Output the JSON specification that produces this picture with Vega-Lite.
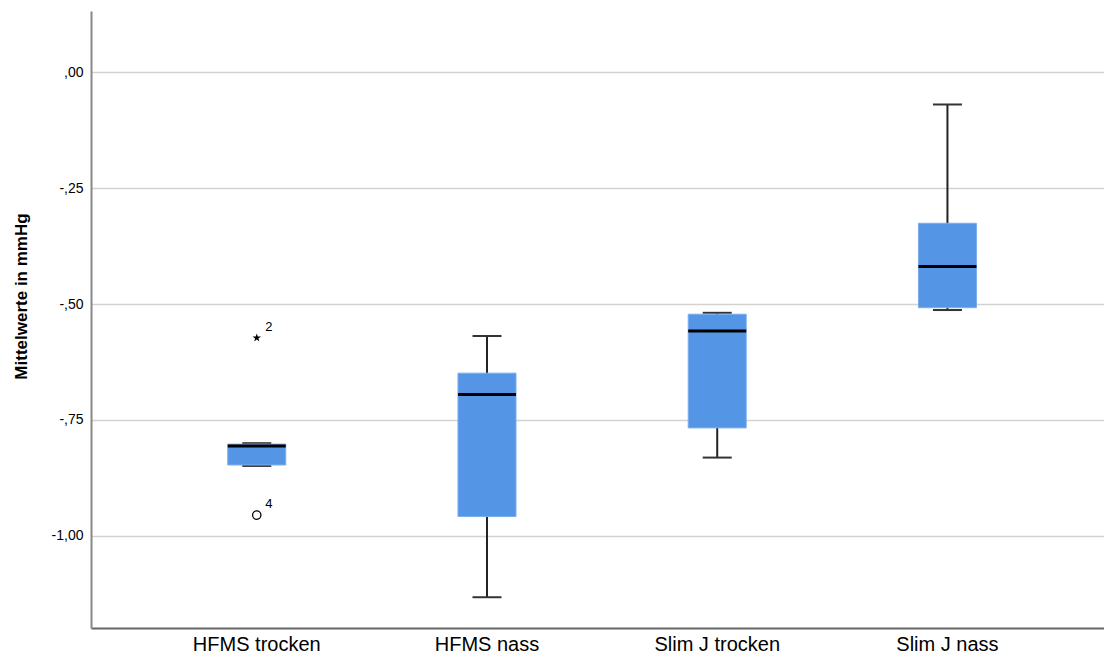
{
  "$schema": "https://vega.github.io/schema/vega-lite/v6.json",
  "width": 1013,
  "height": 617,
  "autosize": {"type": "none"},
  "padding": {"left": 91, "top": 11, "right": 0, "bottom": 30},
  "background": "white",
  "config": {
    "view": {"stroke": null},
    "font": "Liberation Sans"
  },
  "datasets": {
    "boxes": [
      {"group": "HFMS trocken", "lower": -0.849, "q1": -0.847, "median": -0.806, "q3": -0.802, "upper": -0.800},
      {"group": "HFMS nass", "lower": -1.132, "q1": -0.958, "median": -0.695, "q3": -0.649, "upper": -0.569},
      {"group": "Slim J trocken", "lower": -0.831, "q1": -0.767, "median": -0.558, "q3": -0.522, "upper": -0.519},
      {"group": "Slim J nass", "lower": -0.513, "q1": -0.508, "median": -0.419, "q3": -0.326, "upper": -0.070}
    ],
    "outliers": [
      {"group": "HFMS trocken", "value": -0.573, "label": "2", "kind": "extreme"},
      {"group": "HFMS trocken", "value": -0.955, "label": "4", "kind": "outlier"}
    ]
  },
  "encoding": {
    "x": {
      "field": "group",
      "type": "nominal",
      "sort": ["HFMS trocken", "HFMS nass", "Slim J trocken", "Slim J nass"],
      "scale": {"paddingInner": 0, "paddingOuter": 0.2, "align": 0.55},
      "axis": {
        "title": null,
        "labelAngle": 0,
        "labelFontSize": 20,
        "labelColor": "#000000",
        "labelPadding": 6,
        "ticks": false,
        "domainColor": "#666666",
        "domainWidth": 2,
        "grid": false
      }
    }
  },
  "layer": [
    {
      "data": {"name": "boxes"},
      "mark": {"type": "rule", "color": "#222222", "strokeWidth": 2, "opacity": 1},
      "encoding": {
        "y": {
          "field": "lower",
          "type": "quantitative",
          "scale": {"domain": [-1.1983, 0.1315], "nice": false, "zero": false},
          "axis": {
            "title": "Mittelwerte in mmHg",
            "titleFontSize": 17,
            "titleFontWeight": "bold",
            "titleColor": "#000000",
            "titleAngle": 270,
            "titleX": -70,
            "titleY": 285,
            "titleAlign": "center",
            "titleBaseline": "middle",
            "values": [0, -0.25, -0.5, -0.75, -1],
            "labelExpr": "replace(replace(replace(format(datum.value, '.2f'), '\u2212', '-'), '0.', '.'), '.', ',')",
            "labelFontSize": 14,
            "labelColor": "#000000",
            "labelPadding": 8,
            "ticks": false,
            "domainColor": "#888888",
            "domainWidth": 2,
            "grid": true,
            "gridColor": "#d2d2d2",
            "gridWidth": 1.6
          }
        },
        "y2": {"field": "upper"}
      }
    },
    {
      "data": {"name": "boxes"},
      "mark": {"type": "tick", "color": "#333333", "size": 29, "thickness": 2, "opacity": 1},
      "encoding": {"y": {"field": "lower", "type": "quantitative"}}
    },
    {
      "data": {"name": "boxes"},
      "mark": {"type": "tick", "color": "#333333", "size": 29, "thickness": 2, "opacity": 1},
      "encoding": {"y": {"field": "upper", "type": "quantitative"}}
    },
    {
      "data": {"name": "boxes"},
      "mark": {"type": "bar", "size": 58, "color": "#5495e5", "stroke": "#7aaeee", "strokeWidth": 1, "opacity": 1},
      "encoding": {
        "y": {"field": "q1", "type": "quantitative"},
        "y2": {"field": "q3"}
      }
    },
    {
      "data": {"name": "boxes"},
      "mark": {"type": "tick", "color": "#000000", "size": 58, "thickness": 3, "opacity": 1},
      "encoding": {"y": {"field": "median", "type": "quantitative"}}
    },
    {
      "data": {"name": "outliers"},
      "transform": [{"filter": "datum.kind === 'extreme'"}],
      "mark": {
        "type": "point",
        "shape": "M0,-1L0.2245,-0.309L0.951,-0.309L0.363,0.118L0.588,0.809L0,0.382L-0.588,0.809L-0.363,0.118L-0.951,-0.309L-0.2245,-0.309Z",
        "filled": true,
        "color": "#000000",
        "size": 80,
        "opacity": 1
      },
      "encoding": {"y": {"field": "value", "type": "quantitative"}}
    },
    {
      "data": {"name": "outliers"},
      "transform": [{"filter": "datum.kind === 'outlier'"}],
      "mark": {
        "type": "point",
        "shape": "circle",
        "filled": false,
        "color": "#000000",
        "strokeWidth": 1.3,
        "size": 70,
        "opacity": 1
      },
      "encoding": {"y": {"field": "value", "type": "quantitative"}}
    },
    {
      "data": {"name": "outliers"},
      "mark": {"type": "text", "fontSize": 13, "color": "#000000", "dx": 12, "dy": -11, "align": "center", "baseline": "middle"},
      "encoding": {
        "y": {"field": "value", "type": "quantitative"},
        "text": {"field": "label"}
      }
    }
  ]
}
